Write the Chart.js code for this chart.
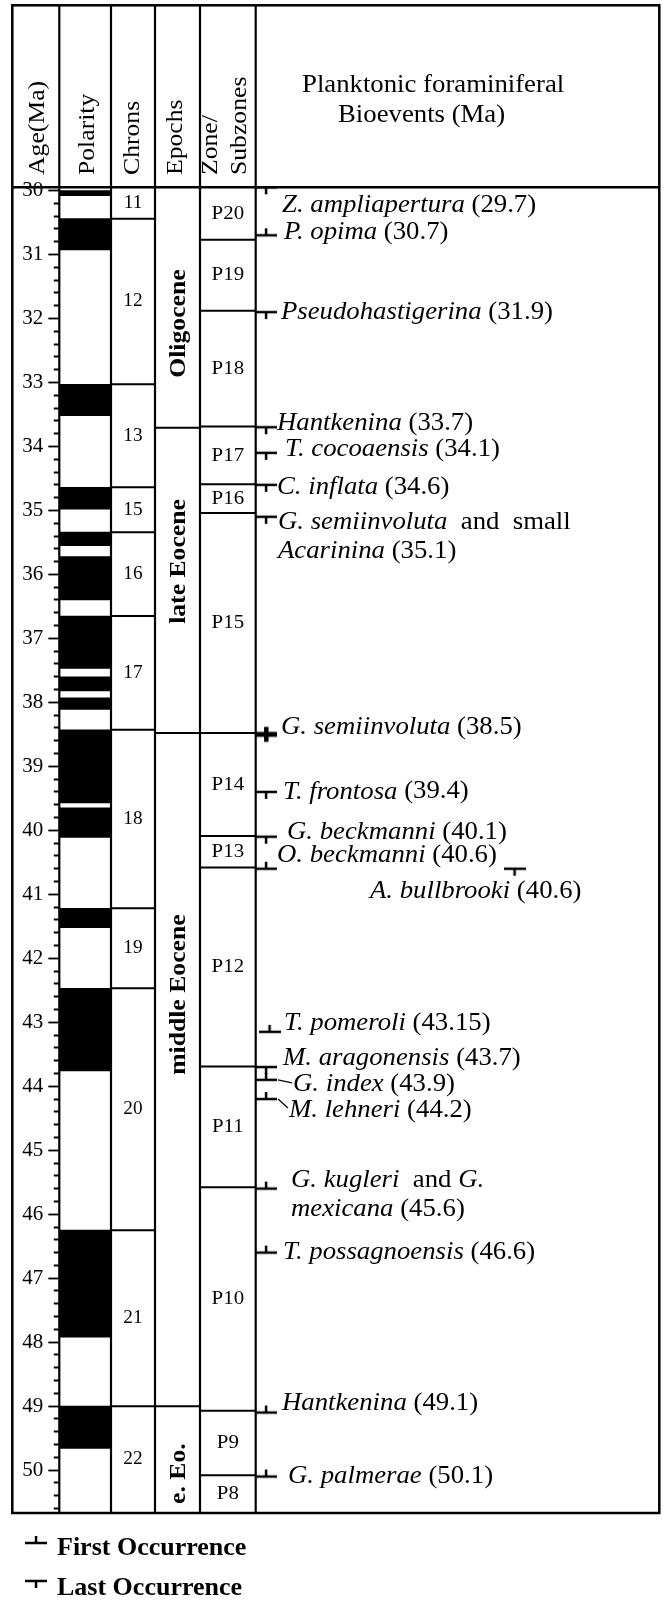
<!DOCTYPE html>
<html>
<head>
<meta charset="utf-8">
<script src="https://cdn.jsdelivr.net/npm/chart.js@4.4.1/dist/chart.umd.min.js"></script>
<style>
  html, body { margin: 0; padding: 0; background: #fff; overflow: hidden; }
  canvas { display: block; }
</style>
</head>
<body>
<canvas id="chart" width="664" height="1600"></canvas>
<script>
// age axis, Ma (down = older)
var ageMin = 29.95;
var ageMax = 50.67;
var majorStep = 1;
var minorStep = 0.2;

// normal polarity (black) intervals
var normalTop  = [30.00, 30.44, 33.03, 34.64, 35.34, 35.72, 36.65, 37.60, 37.93, 38.43, 39.65, 41.22, 42.47, 46.25, 49.00];
var normalBase = [30.08, 30.93, 33.52, 34.98, 35.55, 36.40, 37.47, 37.82, 38.11, 39.57, 40.11, 41.52, 43.76, 47.92, 49.66];

var chronNames  = ['11', '12', '13', '15', '16', '17', '18', '19', '20', '21', '22'];
var chronBounds = [30.44, 33.03, 34.64, 35.34, 36.65, 38.43, 41.22, 42.47, 46.25, 49.00];

var epochNames  = ['Oligocene', 'late Eocene', 'middle Eocene', 'e. Eo.'];
var epochBounds = [33.71, 38.48, 49.00];

var zoneNames  = ['P20', 'P19', 'P18', 'P17', 'P16', 'P15', 'P14', 'P13', 'P12', 'P11', 'P10', 'P9', 'P8'];
var zoneBounds = [30.77, 31.88, 33.69, 34.59, 35.04, 38.48, 40.09, 40.58, 43.69, 45.58, 49.07, 50.08];

// bioevents (*...* = italic, | = new line)
var eventText = [
  '*Z. ampliapertura*',
  '*P. opima*',
  '*Pseudohastigerina*',
  '*Hantkenina*',
  '*T. cocoaensis*',
  '*C. inflata*',
  '*G. semiinvoluta*  and  small|*Acarinina*',
  '*G. semiinvoluta*',
  '*T. frontosa*',
  '*G. beckmanni*',
  '*O. beckmanni*',
  '*A. bullbrooki*',
  '*T. pomeroli*',
  '*M. aragonensis*',
  '*G. index*',
  '*M. lehneri*',
  '*G. kugleri*  and *G.*|*mexicana*',
  '*T. possagnoensis*',
  '*Hantkenina*',
  '*G. palmerae*'
];
var eventAge  = [29.7, 30.7, 31.9, 33.7, 34.1, 34.6, 35.1, 38.5, 39.4, 40.1, 40.6, 40.6, 43.15, 43.7, 43.9, 44.2, 45.6, 46.6, 49.1, 50.1];
var eventType = ['LO', 'FO', 'LO', 'LO', 'LO', 'LO', 'LO', 'FO', 'LO', 'LO', 'FO', 'LO', 'FO', 'LO', 'FO', 'FO', 'FO', 'FO', 'FO', 'FO'];

// ---- layout (pixels) ----
var colX = [12.3, 59.3, 111, 155, 200, 255.7, 659.3];
var frameTop = 5.3, headBottom = 187.3, frameBottom = 1513;
var SX = 1.07;
var SERIF = '"Liberation Serif", "Times New Roman", serif';
var markX = eventAge.map(function (a, i) { return i === 11 ? 515.5 : (i === 12 ? 270 : 266.5); });
var labelX  = [282, 284, 281, 277, 285, 277, 278, 281, 283, 287, 277, 370, 284, 283, 293, 289, 291, 283, 282, 288];
var labelDy = [18, -3, 0, -4, -3, 3, 6, -7, 0, -4, -13, 23, -8, -9, 5, 11, -8, 0, -9, 0];
var leaders = [14, 15];
var crossMarks = [7];
var epochDy = [16, -19, -75, 14];

function markCanvas(kind) {
  var c = document.createElement('canvas');
  c.width = 22; c.height = 18;
  var g = c.getContext('2d');
  g.fillStyle = '#000';
  if (kind === 'X') {
    g.fillRect(0, 6.5, 22, 5);
    g.fillRect(9, 1.5, 4.5, 15);
  } else {
    g.fillRect(0, 7.75, 22, 2.5);
    if (kind === 'FO') g.fillRect(9.8, 2, 2.5, 7);
    else g.fillRect(9.8, 9, 2.5, 7);
  }
  return c;
}
var marks = { FO: markCanvas('FO'), LO: markCanvas('LO'), X: markCanvas('X') };

function segs(bounds, x0, x1) {
  var out = [];
  bounds.forEach(function (v) {
    out.push({x: x0, y: v}, {x: x1, y: v}, {x: x1, y: null});
  });
  return out;
}

function markerData(kind) {
  var out = [];
  eventAge.forEach(function (a, i) {
    var k = crossMarks.indexOf(i) >= 0 ? 'X' : eventType[i];
    if (k === kind) out.push({x: markX[i], y: Math.max(a, ageMin)});
  });
  return out;
}

function lineSet(data) {
  return { type: 'line', data: data, showLine: true, borderColor: '#000', borderWidth: 2,
           pointRadius: 0, fill: false, tension: 0 };
}

function markSet(kind) {
  return { type: 'scatter', data: markerData(kind), pointStyle: marks[kind],
           pointRadius: 6, borderWidth: 0 };
}

function put(ctx, s, x, y, font, align, rot, sx) {
  ctx.save();
  ctx.translate(x, y);
  if (rot) ctx.rotate(-Math.PI / 2);
  ctx.scale(sx || SX, 1);
  ctx.font = font;
  ctx.textAlign = align || 'left';
  ctx.textBaseline = 'middle';
  ctx.fillText(s, 0, 0);
  ctx.restore();
}

function richLine(ctx, line, x, y, size) {
  var cx = x;
  line.split('*').forEach(function (p, i) {
    if (!p) return;
    var font = (i % 2 ? 'italic ' : '') + size + 'px ' + SERIF;
    put(ctx, p, cx, y, font, 'left');
    ctx.font = font;
    cx += ctx.measureText(p).width * SX;
  });
}

var stratPlugin = {
  id: 'strat',
  afterDatasetsDraw: function (chart) {
    var ctx = chart.ctx;
    var ys = chart.scales.y;
    ctx.save();
    ctx.fillStyle = '#000';
    ctx.strokeStyle = '#000';

    // frame and columns
    ctx.lineWidth = 2.5;
    ctx.strokeRect(colX[0], frameTop, colX[6] - colX[0], frameBottom - frameTop);
    ctx.beginPath();
    ctx.moveTo(colX[0], headBottom); ctx.lineTo(colX[6], headBottom);
    ctx.stroke();
    ctx.lineWidth = 2.2;
    for (var c = 1; c < 6; c++) {
      ctx.beginPath();
      ctx.moveTo(colX[c], frameTop); ctx.lineTo(colX[c], frameBottom);
      ctx.stroke();
    }

    // header
    var hf = '24px ' + SERIF;
    put(ctx, 'Age(Ma)', 38, 175, hf, 'left', true);
    put(ctx, 'Polarity', 88, 175, hf, 'left', true);
    put(ctx, 'Chrons', 133, 175, hf, 'left', true);
    put(ctx, 'Epochs', 176, 175, hf, 'left', true);
    put(ctx, 'Zone/', 211, 175, hf, 'left', true);
    put(ctx, 'Subzones', 240, 175, hf, 'left', true);
    put(ctx, 'Planktonic foraminiferal', 302, 85, '25px ' + SERIF, 'left');
    put(ctx, 'Bioevents (Ma)', 338, 115, '25px ' + SERIF, 'left');

    function mid(bounds, i) {
      var a = i === 0 ? ageMin : bounds[i - 1];
      var b = i === bounds.length ? ageMax : bounds[i];
      return (ys.getPixelForValue(a) + ys.getPixelForValue(b)) / 2;
    }

    chronNames.forEach(function (n, i) {
      put(ctx, n, (colX[2] + colX[3]) / 2, mid(chronBounds, i), '18px ' + SERIF, 'center');
    });
    zoneNames.forEach(function (n, i) {
      put(ctx, n, (colX[4] + colX[5]) / 2, mid(zoneBounds, i), '19.5px ' + SERIF, 'center');
    });
    epochNames.forEach(function (n, i) {
      put(ctx, n, (colX[3] + colX[4]) / 2 + 1, mid(epochBounds, i) + epochDy[i], 'bold 24px ' + SERIF, 'center', true);
    });

    // event labels
    eventText.forEach(function (t, i) {
      var lines = (t + ' (' + eventAge[i] + ')').split('|');
      var y0 = ys.getPixelForValue(Math.max(eventAge[i], ageMin)) + labelDy[i];
      lines.forEach(function (ln, k) {
        richLine(ctx, ln, labelX[i], y0 + k * 28.5, 25);
      });
      if (leaders.indexOf(i) >= 0) {
        ctx.lineWidth = 1.2;
        ctx.beginPath();
        ctx.moveTo(278, ys.getPixelForValue(eventAge[i]));
        ctx.lineTo(labelX[i] - 1, y0 - 2);
        ctx.stroke();
      }
    });

    // legend
    ctx.drawImage(marks.FO, 36 - 11, 1543 - 9);
    ctx.drawImage(marks.LO, 36 - 11, 1581 - 9);
    put(ctx, 'First Occurrence', 57, 1548, 'bold 26px ' + SERIF, 'left', false, 1);
    put(ctx, 'Last Occurrence', 57, 1588, 'bold 26px ' + SERIF, 'left', false, 1);
    ctx.restore();
  }
};

var polarityData = normalTop.map(function (t, i) {
  return {x: (colX[1] + colX[2]) / 2, y: [t, normalBase[i]]};
});

new Chart(document.getElementById('chart'), {
  type: 'scatter',
  data: {
    datasets: [
      { type: 'bar', data: polarityData, backgroundColor: '#000', borderWidth: 0,
        barThickness: colX[2] - colX[1] },
      lineSet(segs(chronBounds, colX[2], colX[3])),
      lineSet(segs(epochBounds, colX[3], colX[4])),
      lineSet(segs(zoneBounds, colX[4], colX[5])),
      markSet('FO'),
      markSet('LO'),
      markSet('X')
    ]
  },
  options: {
    responsive: false,
    animation: false,
    events: [],
    layout: { padding: { left: colX[0], right: 664 - colX[6], top: headBottom, bottom: 1600 - frameBottom } },
    scales: {
      x: { type: 'linear', min: colX[1], max: colX[6], offset: false, display: false },
      y: {
        type: 'linear',
        position: 'left',
        reverse: true,
        min: ageMin,
        max: ageMax,
        afterFit: function (scale) { scale.width = colX[1] - colX[0]; },
        border: { display: false },
        grid: {
          drawOnChartArea: false,
          drawTicks: true,
          tickLength: 11,
          tickWidth: 1.8,
          tickColor: '#000',
          tickBorderDash: function (c) {
            var v = c.tick ? c.tick.value : 0;
            return Math.abs(v - Math.round(v)) < 1e-6 ? [] : [0, 5.5, 5.5, 30];
          }
        },
        ticks: {
          stepSize: minorStep,
          autoSkip: false,
          includeBounds: false,
          padding: 5,
          color: '#000',
          font: { family: 'Liberation Serif', size: 21 },
          callback: function (v) {
            var r = Math.round(v / majorStep) * majorStep;
            return Math.abs(v - r) < 1e-6 ? String(r) : '';
          }
        }
      }
    },
    plugins: { legend: { display: false }, tooltip: { enabled: false } }
  },
  plugins: [stratPlugin]
});
</script>
</body>
</html>
